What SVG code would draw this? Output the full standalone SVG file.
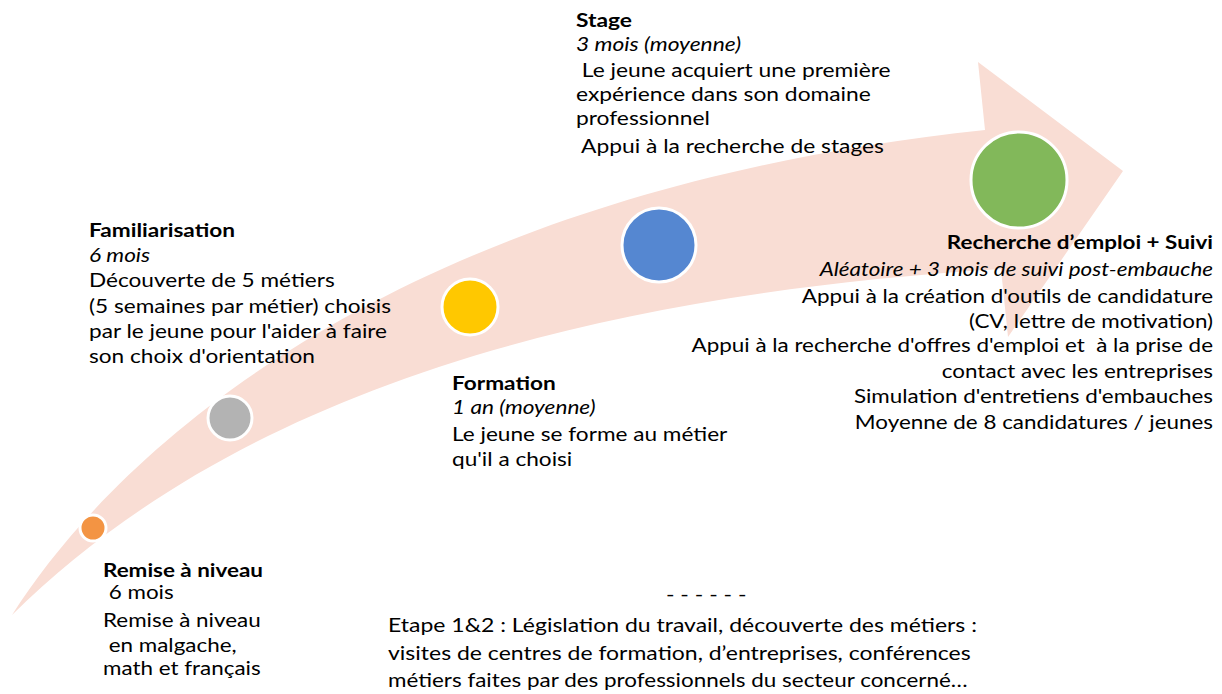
<svg xmlns="http://www.w3.org/2000/svg" width="1222" height="694" viewBox="0 0 1222 694">
<style>
text{font-family:Lato,"Open Sans","Liberation Sans",sans-serif;font-size:19px;fill:#000;white-space:pre}
.b{font-weight:bold}
.i{font-style:italic}
.dot{stroke:#fff;stroke-width:3}
</style>
<rect width="1222" height="694" fill="#fff"/>
<g id="connectors">
<path d="M12,615 C130,430 420,190 985,130 L978,62 L1123,171 L1008,337 L1001,269 C500,300 200,430 12,615 Z" fill="#F9DDD4"/>
</g>
<g id="remise">
<circle class="dot" cx="93" cy="528" r="13" fill="#F39443"/>
<g transform="translate(103,0) scale(1.18,1)">
<text class="b" x="0" y="577">Remise à niveau</text>
<text x="0" y="599"> 6 mois</text>
<text x="0" y="627">Remise à niveau</text>
<text x="0" y="652"> en malgache,</text>
<text x="0" y="675">math et français</text>
</g>
</g>
<g id="familiarisation">
<circle class="dot" cx="230" cy="418" r="22" fill="#B3B3B3"/>
<g transform="translate(89,0) scale(1.19,1)">
<text class="b" x="0" y="237">Familiarisation</text>
<text class="i" x="0" y="262">6 mois</text>
<text x="0" y="287">Découverte de 5 métiers</text>
<text x="0" y="313">(5 semaines par métier) choisis</text>
<text x="0" y="338">par le jeune pour l'aider à faire</text>
<text x="0" y="363">son choix d'orientation</text>
</g>
</g>
<g id="formation">
<circle class="dot" cx="470" cy="307" r="28" fill="#FFC800"/>
<g transform="translate(452,0) scale(1.19,1)">
<text class="b" x="0" y="390">Formation</text>
<text class="i" x="0" y="414">1 an (moyenne)</text>
<text x="0" y="441">Le jeune se forme au métier</text>
<text x="0" y="466">qu'il a choisi</text>
</g>
</g>
<g id="stage">
<circle class="dot" cx="659" cy="245" r="37" fill="#5587D1"/>
<g transform="translate(576,0) scale(1.2,1)">
<text class="b" x="0" y="27">Stage</text>
<text class="i" x="0" y="51">3 mois (moyenne)</text>
<text x="0" y="77"> Le jeune acquiert une première</text>
<text x="0" y="101">expérience dans son domaine</text>
<text x="0" y="125">professionnel</text>
<text x="0" y="153"> Appui à la recherche de stages</text>
</g>
</g>
<g id="recherche">
<circle class="dot" cx="1019" cy="180" r="48" fill="#82B85A"/>
<g transform="translate(1213,0) scale(1.18,1)" text-anchor="end">
<text class="b" x="0" y="249">Recherche d’emploi + Suivi</text>
<text class="i" x="0" y="276">Aléatoire + 3 mois de suivi post-embauche</text>
<text x="0" y="303">Appui à la création d'outils de candidature</text>
<text x="0" y="328">(CV, lettre de motivation)</text>
<text x="0" y="352">Appui à la recherche d'offres d'emploi et  à la prise de</text>
<text x="0" y="378">contact avec les entreprises</text>
<text x="0" y="403">Simulation d'entretiens d'embauches</text>
<text x="0" y="429">Moyenne de 8 candidatures / jeunes</text>
</g>
</g>
<g id="note">
<g transform="translate(388,0) scale(1.21,1)">
<text x="263" y="601" text-anchor="middle">- - - - - -</text>
<text x="0" y="632">Etape 1&amp;2 : Législation du travail, découverte des métiers :</text>
<text x="0" y="660">visites de centres de formation, d’entreprises, conférences</text>
<text x="0" y="687" textLength="479" lengthAdjust="spacingAndGlyphs">métiers faites par des professionnels du secteur concerné…</text>
</g>
</g>
</svg>
